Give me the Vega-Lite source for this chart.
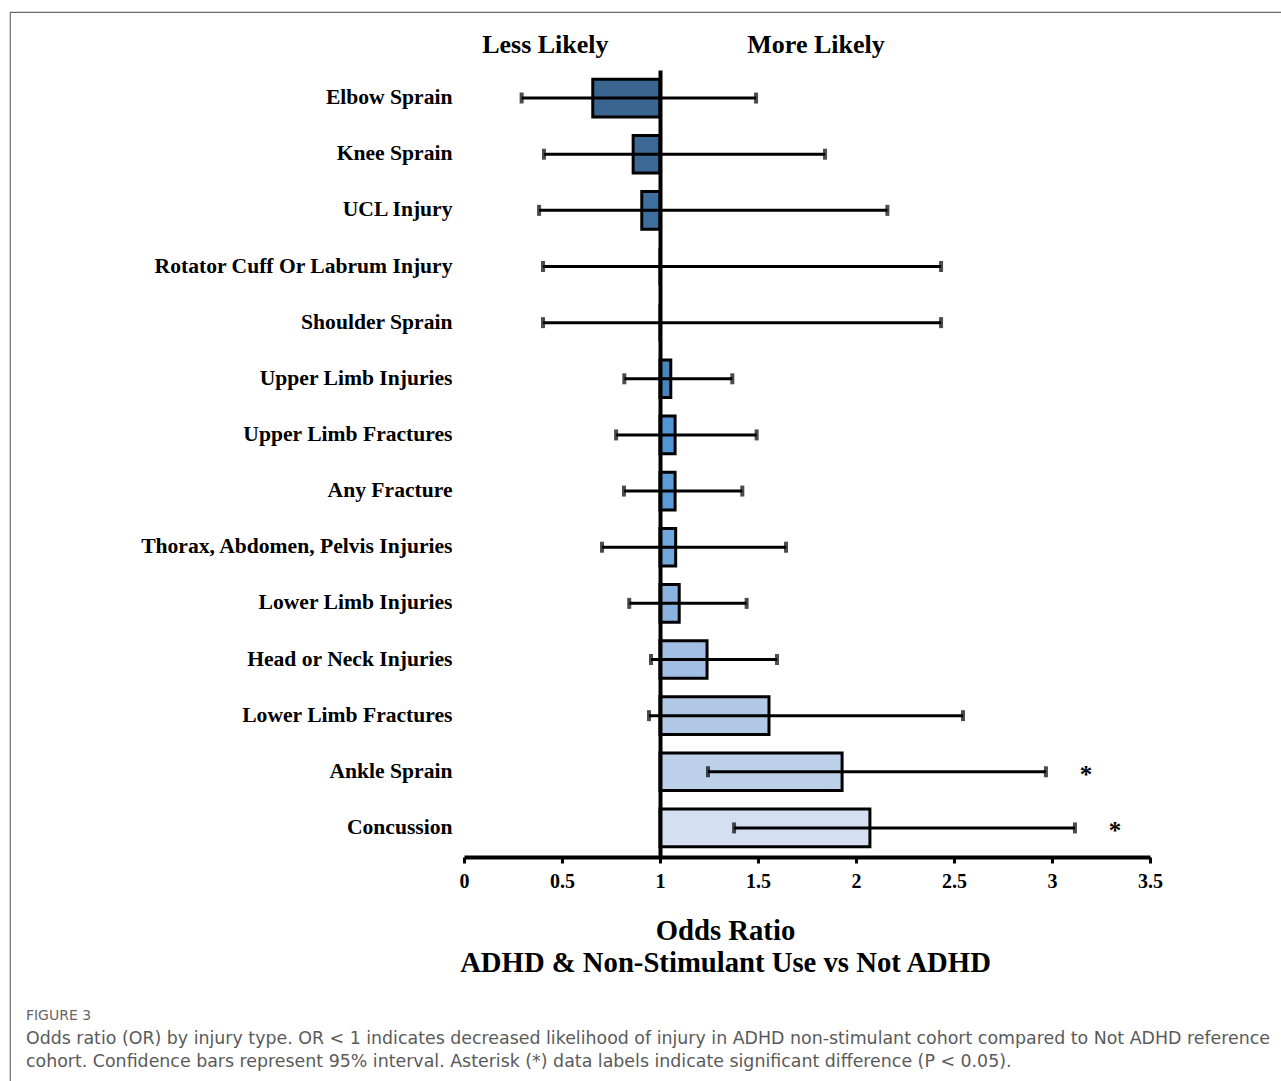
{
  "$schema": "https://vega.github.io/schema/vega-lite/v6.json",
  "width": 1273,
  "height": 1071,
  "autosize": {"type": "none"},
  "padding": {"left": 10, "top": 12, "right": -2, "bottom": -2},
  "background": "white",
  "config": {"view": {"stroke": "#6b6b6b", "strokeWidth": 1.2}, "font": "Liberation Serif"},
  "datasets": {
    "injuries": [
      {"injury": "Elbow Sprain", "or": 0.657, "lower": 0.294, "upper": 1.49, "sig": ""},
      {"injury": "Knee Sprain", "or": 0.863, "lower": 0.408, "upper": 1.842, "sig": ""},
      {"injury": "UCL Injury", "or": 0.907, "lower": 0.383, "upper": 2.16, "sig": ""},
      {"injury": "Rotator Cuff Or Labrum Injury", "or": 1.0, "lower": 0.403, "upper": 2.434, "sig": ""},
      {"injury": "Shoulder Sprain", "or": 1.0, "lower": 0.403, "upper": 2.434, "sig": ""},
      {"injury": "Upper Limb Injuries", "or": 1.055, "lower": 0.818, "upper": 1.369, "sig": ""},
      {"injury": "Upper Limb Fractures", "or": 1.077, "lower": 0.776, "upper": 1.493, "sig": ""},
      {"injury": "Any Fracture", "or": 1.077, "lower": 0.816, "upper": 1.42, "sig": ""},
      {"injury": "Thorax, Abdomen, Pelvis Injuries", "or": 1.08, "lower": 0.704, "upper": 1.643, "sig": ""},
      {"injury": "Lower Limb Injuries", "or": 1.098, "lower": 0.843, "upper": 1.442, "sig": ""},
      {"injury": "Head or Neck Injuries", "or": 1.24, "lower": 0.954, "upper": 1.597, "sig": ""},
      {"injury": "Lower Limb Fractures", "or": 1.556, "lower": 0.944, "upper": 2.546, "sig": ""},
      {"injury": "Ankle Sprain", "or": 1.929, "lower": 1.245, "upper": 2.969, "sig": "*"},
      {"injury": "Concussion", "or": 2.071, "lower": 1.378, "upper": 3.117, "sig": "*"}
    ],
    "headers": [{"label": "Less Likely", "side": "less"}, {"label": "More Likely", "side": "more"}],
    "caption": [
      {"line": 0, "text": "FIGURE 3"},
      {"line": 1, "text": "Odds ratio (OR) by injury type. OR < 1 indicates decreased likelihood of injury in ADHD non-stimulant cohort compared to Not ADHD reference"},
      {"line": 2, "text": "cohort. Confidence bars represent 95% interval. Asterisk (*) data labels indicate significant difference (P < 0.05)."}
    ]
  },
  "data": {"name": "injuries"},
  "layer": [
    {
      "mark": {"type": "bar", "stroke": "black", "strokeWidth": 3},
      "encoding": {
        "y": {
          "field": "injury", "type": "nominal", "sort": null,
          "scale": {
            "domain": ["Elbow Sprain", "Knee Sprain", "UCL Injury", "Rotator Cuff Or Labrum Injury", "Shoulder Sprain", "Upper Limb Injuries", "Upper Limb Fractures", "Any Fracture", "Thorax, Abdomen, Pelvis Injuries", "Lower Limb Injuries", "Head or Neck Injuries", "Lower Limb Fractures", "Ankle Sprain", "Concussion"],
            "range": [58, 844], "paddingInner": 0.33, "paddingOuter": 0.165
          },
          "axis": {
            "orient": "left", "offset": -650, "title": null, "grid": false,
            "domain": true, "domainColor": "black", "domainWidth": 4,
            "ticks": false, "tickSize": 0,
            "labelFont": "Liberation Serif", "labelFontWeight": "bold", "labelFontSize": 21.6, "labelColor": "black",
            "labelPadding": 208, "labelLimit": 600, "zindex": 1
          }
        },
        "x": {
          "field": "or", "type": "quantitative",
          "scale": {"domain": [0, 3.5], "range": [454, 1140], "zero": false, "nice": false},
          "axis": {
            "orient": "bottom", "offset": -226, "grid": false,
            "values": [0, 0.5, 1, 1.5, 2, 2.5, 3, 3.5], "labelExpr": "'' + datum.value",
            "domainColor": "black", "domainWidth": 4,
            "tickColor": "black", "tickWidth": 3, "tickSize": 6,
            "labelFont": "Liberation Serif", "labelFontWeight": "bold", "labelFontSize": 20, "labelColor": "black",
            "labelPadding": 8, "labelFlush": false, "labelOverlap": false,
            "title": ["Odds Ratio", "ADHD & Non-Stimulant Use vs Not ADHD"],
            "titleFont": "Liberation Serif", "titleFontWeight": "bold", "titleFontSize": 28.7, "titleColor": "black",
            "titleX": 715, "titleY": 82, "titleAlign": "center", "titleBaseline": "alphabetic", "titleLineHeight": 32,
            "zindex": 1
          }
        },
        "x2": {"datum": 1},
        "color": {
          "field": "injury", "type": "nominal",
          "scale": {
            "domain": ["Elbow Sprain", "Knee Sprain", "UCL Injury", "Rotator Cuff Or Labrum Injury", "Shoulder Sprain", "Upper Limb Injuries", "Upper Limb Fractures", "Any Fracture", "Thorax, Abdomen, Pelvis Injuries", "Lower Limb Injuries", "Head or Neck Injuries", "Lower Limb Fractures", "Ankle Sprain", "Concussion"],
            "range": ["#3a6591", "#3b6894", "#3f6f9e", "#4477aa", "#467db3", "#4a84bd", "#5196d3", "#5a9dd8", "#70a8dc", "#8cb3e0", "#a2bee4", "#b2c8e7", "#bcd0ea", "#d4e0f1"]
          },
          "legend": null
        }
      }
    },
    {
      "mark": {"type": "rule", "color": "black", "strokeWidth": 3},
      "encoding": {
        "y": {"field": "injury", "type": "nominal", "sort": null},
        "x": {"field": "lower", "type": "quantitative"},
        "x2": {"field": "upper"}
      }
    },
    {
      "mark": {"type": "tick", "color": "black", "thickness": 4, "size": 11, "orient": "vertical"},
      "encoding": {
        "y": {"field": "injury", "type": "nominal", "sort": null},
        "x": {"field": "lower", "type": "quantitative"}
      }
    },
    {
      "mark": {"type": "tick", "color": "black", "thickness": 4, "size": 11, "orient": "vertical"},
      "encoding": {
        "y": {"field": "injury", "type": "nominal", "sort": null},
        "x": {"field": "upper", "type": "quantitative"}
      }
    },
    {
      "mark": {"type": "text", "font": "Liberation Serif", "fontWeight": "bold", "fontSize": 25, "color": "black", "dx": 40, "dy": 3, "align": "center", "baseline": "middle"},
      "encoding": {
        "y": {"field": "injury", "type": "nominal", "sort": null},
        "x": {"field": "upper", "type": "quantitative"},
        "text": {"field": "sig"}
      }
    },
    {
      "data": {"name": "headers"},
      "transform": [{"filter": "datum.side == 'less'"}],
      "mark": {"type": "text", "font": "Liberation Serif", "fontWeight": "bold", "fontSize": 26, "color": "black", "align": "center", "baseline": "middle", "dy": -53},
      "encoding": {
        "x": {"datum": 0.415, "type": "quantitative"},
        "y": {"datum": "Elbow Sprain", "type": "nominal"},
        "text": {"field": "label"}
      }
    },
    {
      "data": {"name": "headers"},
      "transform": [{"filter": "datum.side == 'more'"}],
      "mark": {"type": "text", "font": "Liberation Serif", "fontWeight": "bold", "fontSize": 26, "color": "black", "align": "center", "baseline": "middle", "dy": -53},
      "encoding": {
        "x": {"datum": 1.796, "type": "quantitative"},
        "y": {"datum": "Elbow Sprain", "type": "nominal"},
        "text": {"field": "label"}
      }
    },
    {
      "data": {"name": "caption"},
      "transform": [{"filter": "datum.line == 0"}],
      "mark": {"type": "text", "font": "DejaVu Sans", "fontSize": 14, "color": "#666666", "align": "left", "baseline": "middle", "dy": 188},
      "encoding": {
        "x": {"datum": -2.235, "type": "quantitative"},
        "y": {"datum": "Concussion", "type": "nominal"},
        "text": {"field": "text"}
      }
    },
    {
      "data": {"name": "caption"},
      "transform": [{"filter": "datum.line == 1"}],
      "mark": {"type": "text", "font": "DejaVu Sans", "fontSize": 17.4, "color": "#5a5a5a", "align": "left", "baseline": "middle", "dy": 211},
      "encoding": {
        "x": {"datum": -2.235, "type": "quantitative"},
        "y": {"datum": "Concussion", "type": "nominal"},
        "text": {"field": "text"}
      }
    },
    {
      "data": {"name": "caption"},
      "transform": [{"filter": "datum.line == 2"}],
      "mark": {"type": "text", "font": "DejaVu Sans", "fontSize": 17.4, "color": "#5a5a5a", "align": "left", "baseline": "middle", "dy": 234},
      "encoding": {
        "x": {"datum": -2.235, "type": "quantitative"},
        "y": {"datum": "Concussion", "type": "nominal"},
        "text": {"field": "text"}
      }
    }
  ]
}
